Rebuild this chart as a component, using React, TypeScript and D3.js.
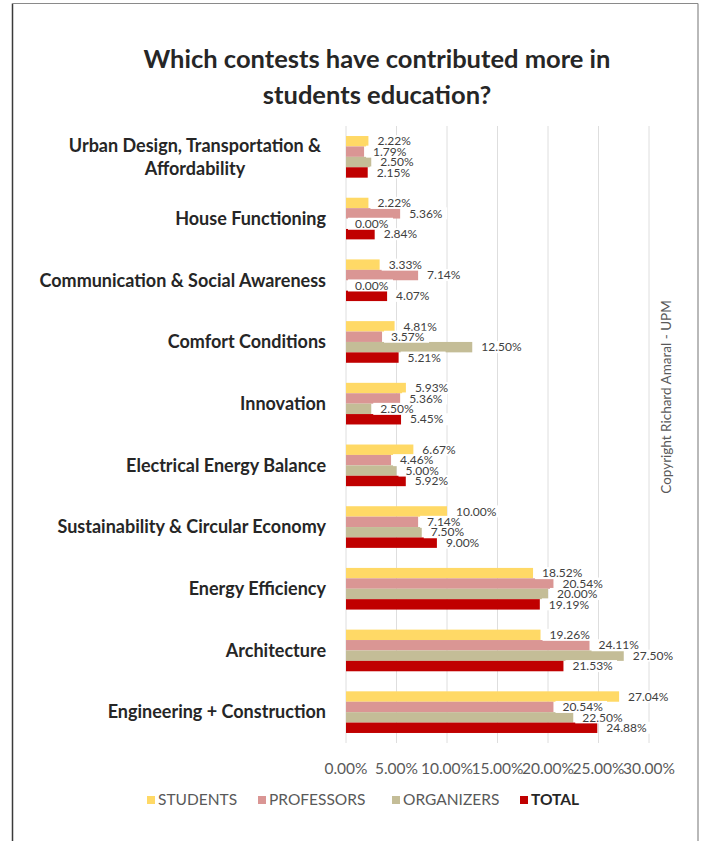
import React from "react";
import * as d3 from "d3";

const categories = [
  "Urban Design, Transportation & Affordability",
  "House Functioning",
  "Communication & Social Awareness",
  "Comfort Conditions",
  "Innovation",
  "Electrical Energy Balance",
  "Sustainability & Circular Economy",
  "Energy Efficiency",
  "Architecture",
  "Engineering + Construction",
];
const categoryLines: string[][] = [
  ["Urban Design, Transportation &", "Affordability"],
  ["House Functioning"],
  ["Communication & Social Awareness"],
  ["Comfort Conditions"],
  ["Innovation"],
  ["Electrical Energy Balance"],
  ["Sustainability & Circular Economy"],
  ["Energy Efficiency"],
  ["Architecture"],
  ["Engineering + Construction"],
];
const students = [2.22, 2.22, 3.33, 4.81, 5.93, 6.67, 10.0, 18.52, 19.26, 27.04];
const professors = [1.79, 5.36, 7.14, 3.57, 5.36, 4.46, 7.14, 20.54, 24.11, 20.54];
const organizers = [2.5, 0.0, 0.0, 12.5, 2.5, 5.0, 7.5, 20.0, 27.5, 22.5];
const total = [2.15, 2.84, 4.07, 5.21, 5.45, 5.92, 9.0, 19.19, 21.53, 24.88];
const seriesNames = ["STUDENTS", "PROFESSORS", "ORGANIZERS", "TOTAL"];
const seriesColors = ["#FFD966", "#DA9694", "#C4BD97", "#C00000"];
const xTicks = [0, 5, 10, 15, 20, 25, 30];
const titleLines = ["Which contests have contributed more in", "students education?"];
const copyright = "Copyright Richard Amaral - UPM";

const FONT = "Lato, 'Open Sans', sans-serif";

export default function App() {
  const W = 704;
  const H = 841;
  const series = [students, professors, organizers, total];
  const x = d3.scaleLinear().domain([0, 30]).range([346, 649]);
  const y = d3.scaleBand<string>().domain(categories).range([126, 743]).padding(0);
  const groupH = y.step() * 0.675;
  const inner = d3
    .scaleBand<number>()
    .domain(d3.range(series.length))
    .range([0, groupH])
    .padding(0);
  const off = (y.step() - groupH) / 2;
  const fmt = (v: number) => v.toFixed(2) + "%";
  const labelFs = 12;

  const legendX = [151, 262, 396, 524];

  return (
    <svg
      width={W}
      height={H}
      style={{ position: "absolute", left: 0, top: 0, background: "#fff" }}
      fontFamily={FONT}
    >
      <rect x={0} y={0} width={W} height={H} fill="#fff" />
      {/* frame */}
      <line x1={12.5} y1={3.5} x2={12.5} y2={H} stroke="#3a3a3a" strokeWidth={1.5} />
      <line x1={12.5} y1={3.5} x2={698} y2={3.5} stroke="#8a8a8a" strokeWidth={1.2} />
      <line x1={698} y1={3.5} x2={698} y2={H} stroke="#8a8a8a" strokeWidth={1.2} />

      {/* title */}
      {titleLines.map((t, i) => (
        <text
          key={t}
          x={377}
          y={68 + i * 36}
          textAnchor="middle"
          fontSize={25.5}
          fontWeight={700}
          fill="#262626"
        >
          {t}
        </text>
      ))}

      {/* gridlines */}
      {xTicks.map((t) => (
        <line
          key={t}
          x1={x(t)}
          x2={x(t)}
          y1={126}
          y2={743}
          stroke="#DEDEDE"
          strokeWidth={1}
        />
      ))}

      {/* bars */}
      {categories.map((c, ci) =>
        series.map((s, si) => (
          <rect
            key={c + si}
            x={x(0)}
            y={(y(c) as number) + off + (inner(si) as number)}
            width={x(s[ci]) - x(0)}
            height={inner.bandwidth()}
            fill={seriesColors[si]}
          />
        ))
      )}

      {/* data labels */}
      {categories.map((c, ci) =>
        series.map((s, si) => {
          const cy = (y(c) as number) + off + (inner(si) as number) + inner.bandwidth() / 2;
          const ex = x(s[ci]);
          const txt = fmt(s[ci]);
          const tw = txt.length * labelFs * 0.55;
          return (
            <g key={"l" + c + si}>
              <rect x={ex + 2} y={cy - 6} width={tw + 12} height={12} fill="#fff" />
              <text
                x={ex + 9}
                y={cy}
                dy="0.35em"
                fontSize={labelFs}
                fill="#404040"
              >
                {txt}
              </text>
            </g>
          );
        })
      )}

      {/* category labels */}
      {categories.map((c, ci) => {
        const lines = categoryLines[ci];
        const cy = (y(c) as number) + y.step() / 2;
        const lh = 23;
        const blockW = 262;
        return (
          <text
            key={"c" + c}
            fontSize={18}
            fontWeight={700}
            fill="#262626"
            textAnchor={lines.length > 1 ? "middle" : "end"}
          >
            {lines.map((ln, li) => (
              <tspan
                key={ln}
                x={lines.length > 1 ? 326 - blockW / 2 : 326}
                y={cy + (li - (lines.length - 1) / 2) * lh}
                dy="0.35em"
              >
                {ln}
              </tspan>
            ))}
          </text>
        );
      })}

      {/* x tick labels */}
      {xTicks.map((t) => (
        <text
          key={"t" + t}
          x={x(t)}
          y={769}
          dy="0.35em"
          textAnchor="middle"
          fontSize={15.5}
          fill="#595959"
        >
          {fmt(t)}
        </text>
      ))}

      {/* legend */}
      {seriesNames.map((n, i) => (
        <g key={n}>
          <rect x={legendX[i] - 4} y={796} width={8} height={8} fill={seriesColors[i]} />
          <text
            x={legendX[i] + 7}
            y={800}
            dy="0.35em"
            fontSize={15.5}
            fill={n === "TOTAL" ? "#262626" : "#595959"}
            fontWeight={n === "TOTAL" ? 700 : 400}
          >
            {n}
          </text>
        </g>
      ))}

      {/* copyright */}
      <text
        transform="translate(666,397) rotate(-90)"
        textAnchor="middle"
        dy="0.35em"
        fontSize={13.5}
        fill="#595959"
      >
        {copyright}
      </text>
    </svg>
  );
}
